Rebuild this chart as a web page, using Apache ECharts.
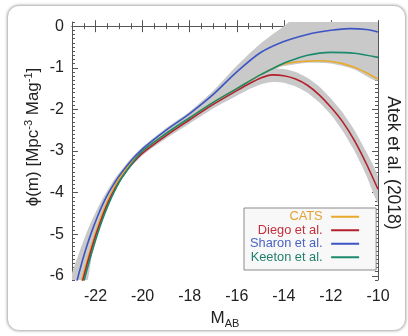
<!DOCTYPE html>
<html><head><meta charset="utf-8">
<script src="https://cdn.jsdelivr.net/npm/echarts@6/dist/echarts.min.js"></script>
<style>
html,body{margin:0;padding:0;background:#fff;width:408px;height:336px;overflow:hidden;}
#frame{position:absolute;left:7px;top:5px;width:397px;height:324px;border-radius:12px;border:1px solid #c4c4c4;box-shadow:0 0 3px rgba(0,0,0,0.35);background:#fff;}
#chart{position:absolute;left:0;top:0;width:408px;height:336px;}
</style></head><body>
<div id="frame"></div>
<div id="chart"></div>
<script>
// ---- data ----
const xTicks = [-22, -20, -18, -16, -14, -12, -10];
const yTicks = [-6, -5, -4, -3, -2, -1, 0];
const seriesNames = ['CATS', 'Diego et al.', 'Sharon et al.', 'Keeton et al.'];
const seriesColors = ['#e9a92a', '#b3202c', '#3d55c4', '#1b8a6c'];
const legendTextColors = ['#e2a231', '#c2303c', '#4a63c2', '#217f6c'];

const catsLF = [[-22.59,-6.12],[-22.4,-5.72],[-22.2,-5.33],[-22.0,-4.97],[-21.8,-4.64],[-21.6,-4.35],[-21.4,-4.09],[-21.2,-3.86],[-21.0,-3.66],[-20.5,-3.28],[-20.0,-3.0],[-19.0,-2.58],[-18.0,-2.2],[-17.0,-1.83],[-16.0,-1.5],[-15.0,-1.17],[-14.3,-0.97],[-14.0,-0.91],[-13.5,-0.86],[-13.0,-0.84],[-12.5,-0.83],[-12.0,-0.85],[-11.5,-0.9],[-11.0,-0.99],[-10.5,-1.12],[-10.0,-1.27]];
const diegoLF = [[-22.55,-6.12],[-22.36,-5.72],[-22.16,-5.33],[-21.96,-4.97],[-21.76,-4.65],[-21.56,-4.36],[-21.36,-4.11],[-21.16,-3.89],[-20.96,-3.7],[-20.46,-3.32],[-20.0,-3.05],[-19.0,-2.63],[-18.0,-2.25],[-17.0,-1.88],[-16.0,-1.55],[-15.5,-1.39],[-15.0,-1.25],[-14.5,-1.17],[-14.0,-1.19],[-13.5,-1.27],[-13.0,-1.42],[-12.5,-1.65],[-12.0,-1.95],[-11.5,-2.3],[-11.0,-2.75],[-10.5,-3.3],[-10.0,-3.92]];
const sharonLF = [[-22.79,-6.12],[-22.6,-5.72],[-22.38,-5.3],[-22.15,-4.92],[-21.92,-4.58],[-21.7,-4.29],[-21.46,-4.02],[-21.22,-3.79],[-21.0,-3.6],[-20.5,-3.24],[-20.0,-2.95],[-19.0,-2.5],[-18.0,-2.1],[-17.0,-1.64],[-16.0,-1.1],[-15.0,-0.64],[-14.0,-0.37],[-13.0,-0.2],[-12.0,-0.1],[-11.2,-0.06],[-10.5,-0.08],[-10.0,-0.14]];
const keetonLF = [[-22.49,-6.12],[-22.3,-5.72],[-22.1,-5.33],[-21.9,-4.97],[-21.7,-4.64],[-21.5,-4.35],[-21.3,-4.09],[-21.1,-3.86],[-20.9,-3.66],[-20.45,-3.3],[-20.0,-3.0],[-19.0,-2.58],[-18.0,-2.2],[-17.0,-1.83],[-16.0,-1.5],[-15.0,-1.17],[-14.3,-0.97],[-14.0,-0.89],[-13.0,-0.7],[-12.0,-0.63],[-11.0,-0.65],[-10.0,-0.75]];

// shaded uncertainty envelope (upper edge, lower edge) and the separate lobe around Diego et al.
const bandUpper = [[-23.1,-6.2],[-22.7,-5.45],[-22.3,-4.85],[-21.8,-4.25],[-21.2,-3.68],[-20.5,-3.18],[-20.0,-2.9],[-19.0,-2.45],[-18.0,-2.05],[-17.0,-1.55],[-16.0,-0.95],[-15.0,-0.42],[-14.0,0.0],[-13.5,0.2],[-10.0,0.2]];
const bandLower = [[-10.0,-1.3],[-11.0,-1.04],[-12.0,-0.9],[-13.0,-0.88],[-14.0,-0.96],[-14.3,-1.02],[-14.8,-1.2],[-15.5,-1.48],[-16.0,-1.66],[-17.0,-1.98],[-18.0,-2.34],[-19.0,-2.7],[-20.0,-3.1],[-20.6,-3.45],[-21.2,-3.95],[-21.7,-4.6],[-22.1,-5.3],[-22.4,-6.2]];
const redBandUpper = [[-16.5,-1.55],[-15.5,-1.28],[-15.0,-1.1],[-14.5,-1.02],[-14.0,-1.03],[-13.5,-1.1],[-13.0,-1.24],[-12.5,-1.45],[-12.0,-1.74],[-11.5,-2.08],[-11.0,-2.5],[-10.5,-3.02],[-10.0,-3.62]];
const redBandLower = [[-10.0,-4.25],[-10.5,-3.58],[-11.0,-3.0],[-11.5,-2.52],[-12.0,-2.13],[-12.5,-1.83],[-13.0,-1.6],[-13.5,-1.45],[-14.0,-1.36],[-14.5,-1.34],[-15.0,-1.4],[-15.5,-1.52],[-16.5,-1.8]];

const xRange = [-23, -10];
const yRange = [-6.1, 0.1];

// ---- chart ----
const chart = echarts.init(document.getElementById('chart'), null, {renderer: 'canvas'});
const FONT = 'Liberation Sans, Arial, Helvetica, sans-serif';
const axisColor = '#555';

function xAxisCfg(pos, showLabel, minor) {
  return {
    type: 'value', position: pos, min: xRange[0], max: xRange[1],
    interval: minor ? 0.5 : undefined,
    axisLine: {show: !minor, lineStyle: {color: axisColor, width: 1}},
    splitLine: {show: false},
    axisTick: minor ? {show: true, inside: true, length: 3, lineStyle: {color: axisColor}} :
      {show: true, inside: true, length: 6, customValues: xTicks, lineStyle: {color: axisColor}},
    axisLabel: (showLabel && !minor) ? {show: true, customValues: xTicks, margin: 9, fontSize: 16, color: '#222', fontFamily: FONT} : {show: false},
    name: (showLabel && !minor) ? '{m|M}{s|AB}' : '',
    nameLocation: 'middle', nameGap: 28,
    nameTextStyle: {fontFamily: FONT, color: '#222', rich: {m: {fontSize: 17, fontFamily: FONT, color: '#222'}, s: {fontSize: 11, fontFamily: FONT, color: '#222', padding: [10, 0, 0, 0]}}}
  };
}
function yAxisCfg(pos, showLabel, minor) {
  return {
    type: 'value', position: pos, min: yRange[0], max: yRange[1],
    interval: minor ? 0.1 : undefined,
    axisLine: {show: !minor, lineStyle: {color: axisColor, width: 1}},
    splitLine: {show: false},
    axisTick: minor ? {show: true, inside: true, length: 3, lineStyle: {color: axisColor}} :
      {show: true, inside: true, length: 6, customValues: yTicks, lineStyle: {color: axisColor}},
    axisLabel: (showLabel && !minor) ? {show: true, customValues: yTicks, margin: 8, fontSize: 16, color: '#222', fontFamily: FONT} : {show: false}
  };
}

function polyFrom(upper, lower) { return upper.concat(lower); }

function bandSeries(upper, lower) {
  return {
    type: 'custom', xAxisIndex: 0, yAxisIndex: 0, clip: true, silent: true, z: 1,
    data: [0],
    renderItem: function (params, api) {
      const pts = polyFrom(upper, lower).map(p => api.coord(p));
      return {type: 'polygon', shape: {points: pts, smooth: 0.2}, style: {fill: '#c9c9c9', stroke: 'none'}};
    }
  };
}

function lineSeries(name, data, color) {
  return {
    name: name, type: 'line', data: data, xAxisIndex: 0, yAxisIndex: 0,
    showSymbol: false, symbol: 'none', smooth: 0.3, clip: true, z: 3,
    lineStyle: {color: color, width: 1.6}, itemStyle: {color: color}
  };
}

const option = {
  animation: false,
  grid: {left: 72, right: 30, top: 22, bottom: 56, containLabel: false, outerBoundsMode: 'none'},
  xAxis: [xAxisCfg('bottom', true, false), xAxisCfg('bottom', false, true), xAxisCfg('top', false, false), xAxisCfg('top', false, true)],
  yAxis: [yAxisCfg('left', true, false), yAxisCfg('left', false, true), yAxisCfg('right', false, false), yAxisCfg('right', false, true)],
  legend: {
    orient: 'vertical', align: 'right', left: 244, top: 208,
    padding: [2, 17, 6, 6], itemGap: 0, itemWidth: 28, itemHeight: 2, icon: 'rect',
    backgroundColor: '#f8f8f8', borderColor: '#8a8a8a', borderWidth: 1,
    formatter: n => n + ' ',
    textStyle: {fontSize: 12.8, fontFamily: FONT, lineHeight: 13.5},
    data: seriesNames.map((n, i) => ({name: n, textStyle: {color: legendTextColors[i]}}))
  },
  graphic: [
    {type: 'text', x: 33, y: 137, rotation: Math.PI / 2, z: 10,
     style: {text: 'ϕ(m) [Mpc{s|-3} Mag{s|-1}]', fontSize: 17, fontFamily: FONT, fill: '#222', align: 'center', verticalAlign: 'middle',
       rich: {s: {fontSize: 11, fontFamily: FONT, fill: '#222', padding: [0, 0, 9, 0]}}}},
    {type: 'text', x: 393, y: 163, rotation: -Math.PI / 2, z: 10,
     style: {text: 'Atek et al. (2018)', fontSize: 17.5, fontFamily: FONT, fill: '#222', align: 'center', verticalAlign: 'middle'}}
  ],
  series: [
    bandSeries(bandUpper, bandLower),
    bandSeries(redBandUpper, redBandLower),
    lineSeries(seriesNames[0], catsLF, seriesColors[0]),
    lineSeries(seriesNames[1], diegoLF, seriesColors[1]),
    lineSeries(seriesNames[2], sharonLF, seriesColors[2]),
    lineSeries(seriesNames[3], keetonLF, seriesColors[3])
  ]
};
chart.setOption(option);
</script>
</body></html>
